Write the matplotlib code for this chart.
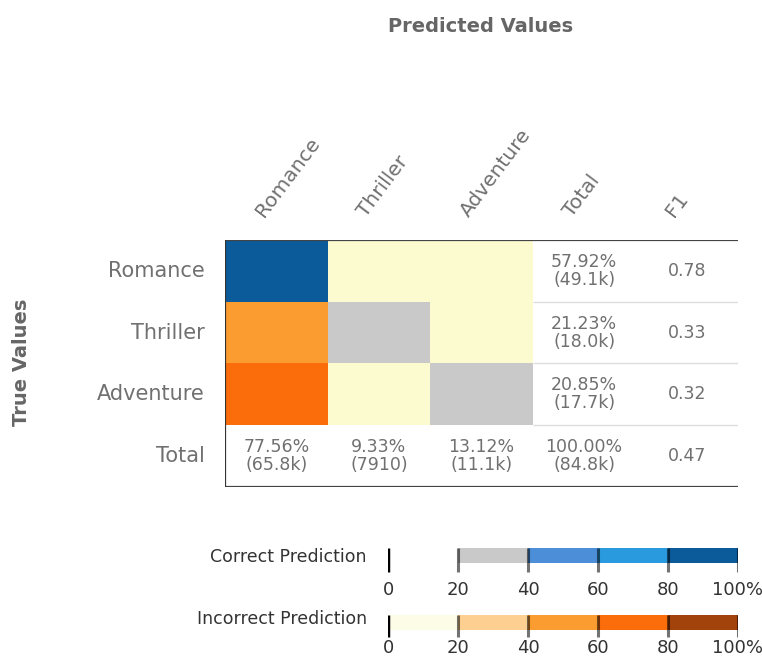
import matplotlib
matplotlib.use("Agg")
import matplotlib.pyplot as plt
from matplotlib.colors import ListedColormap, BoundaryNorm
from matplotlib.patches import Rectangle

# données
classes = ["Romance", "Thriller", "Adventure"]
row_labels = classes + ["Total"]
col_labels = classes + ["Total", "F1"]
# pourcentages par ligne (estimés d'après les couleurs des cases)
row_pct = [[91.2, 2.5, 6.3],
           [57.0, 24.0, 19.0],
           [60.5, 13.5, 26.0]]
row_total_pct = ["57.92%", "21.23%", "20.85%"]
row_total_n = ["(49.1k)", "(18.0k)", "(17.7k)"]
col_total_pct = ["77.56%", "9.33%", "13.12%", "100.00%"]
col_total_n = ["(65.8k)", "(7910)", "(11.1k)", "(84.8k)"]
f1 = ["0.78", "0.33", "0.32", "0.47"]

bins = [0, 20, 40, 60, 80, 100]
bin_labels = ["0", "20", "40", "60", "80", "100%"]
correct_colors = ["#ffffff", "#c9c9c9", "#4c8fd8", "#2a9ade", "#0b5a9a"]
incorrect_colors = ["#fcfbd0", "#fdd092", "#fa9c30", "#fb6d0b", "#a3430c"]

cmap_ok = ListedColormap(correct_colors)
cmap_ko = ListedColormap(incorrect_colors)
norm = BoundaryNorm(bins, len(correct_colors))

txt = "#707070"
plt.rcParams['font.family'] = ['DejaVu Sans']

fig = plt.figure(figsize=(7.62, 6.58), dpi=100)

# region matrice
ax = fig.add_axes([0.2953, 0.2599, 0.6732, 0.3754])
ax.set_xlim(0, len(col_labels))
ax.set_ylim(len(row_labels), 0)
ax.axis("off")

for i in range(len(classes)):
    for j in range(len(classes)):
        v = row_pct[i][j]
        c = cmap_ok(norm(v)) if i == j else cmap_ko(norm(v))
        ax.add_patch(Rectangle((j, i), 1, 1, facecolor=c, edgecolor="none"))

ax.hlines(range(1, len(row_labels)), len(classes), len(col_labels), color="#dddddd", lw=1)
ax.hlines([0, len(row_labels)], 0, len(col_labels), color="#444444", lw=1.6)
ax.vlines(0, 0, len(row_labels), color="#333333", lw=1.6)

for i in range(len(classes)):
    ax.text(3.5, i + 0.5, row_total_pct[i] + "\n" + row_total_n[i], ha="center", va="center",
            fontsize=12.5, color=txt, linespacing=1.0)
for j in range(len(col_total_pct)):
    ax.text(j + 0.5, 3.5, col_total_pct[j] + "\n" + col_total_n[j], ha="center", va="center",
            fontsize=12.5, color=txt, linespacing=1.0)
for i in range(len(f1)):
    ax.text(4.5, i + 0.5, f1[i], ha="center", va="center", fontsize=12.5, color=txt)

for i, lab in enumerate(row_labels):
    ax.text(-0.2, i + 0.5, lab, ha="right", va="center", fontsize=15, color=txt)
for j, lab in enumerate(col_labels):
    ax.text(j + 0.41, -0.32, lab, ha="left", va="bottom", rotation=53,
            rotation_mode="anchor", fontsize=14.5, color=txt)
# endregion

fig.text(481 / 762, 1 - 26 / 658, "Predicted Values", ha="center", va="center",
         fontsize=14, fontweight="bold", color="#666666")
fig.text(22 / 762, 1 - 362 / 658, "True Values", ha="center", va="center", rotation=90,
         fontsize=14, fontweight="bold", color="#666666")

# region légendes
def legende(top, colors, label, pad, label_dy, tick_end):
    lax = fig.add_axes([388 / 762, 1 - (top + 30) / 658, 350 / 762, 30 / 658])
    lax.set_xlim(0, 100)
    lax.set_ylim(1, 0)
    for k in range(len(colors)):
        lax.barh(0.35, bins[k + 1] - bins[k], left=bins[k], height=0.5,
                 color=colors[k], edgecolor="none", alpha=0.5 if k == 0 else 1)
    lax.vlines(bins[0], 0.1, tick_end, color="black", lw=2.5)
    lax.vlines(bins[1:], 0.1, tick_end, color="black", lw=2.2, alpha=0.55)
    for s in lax.spines.values():
        s.set_visible(False)
    lax.set_yticks([])
    lax.set_xticks(bins)
    lax.set_xticklabels(bin_labels, fontsize=13, color="#333333")
    lax.tick_params(axis="x", length=0, pad=pad)
    lax.patch.set_alpha(0)
    fig.text(367 / 762, 1 - (top + label_dy) / 658, label, ha="right", va="center",
             fontsize=12.5, color="#333333")

legende(545, correct_colors, "Correct Prediction", 4, 12, 0.9)
legende(612, incorrect_colors, "Incorrect Prediction", -2, 7, 0.82)
# endregion

fig.savefig("out.png", dpi=100)
